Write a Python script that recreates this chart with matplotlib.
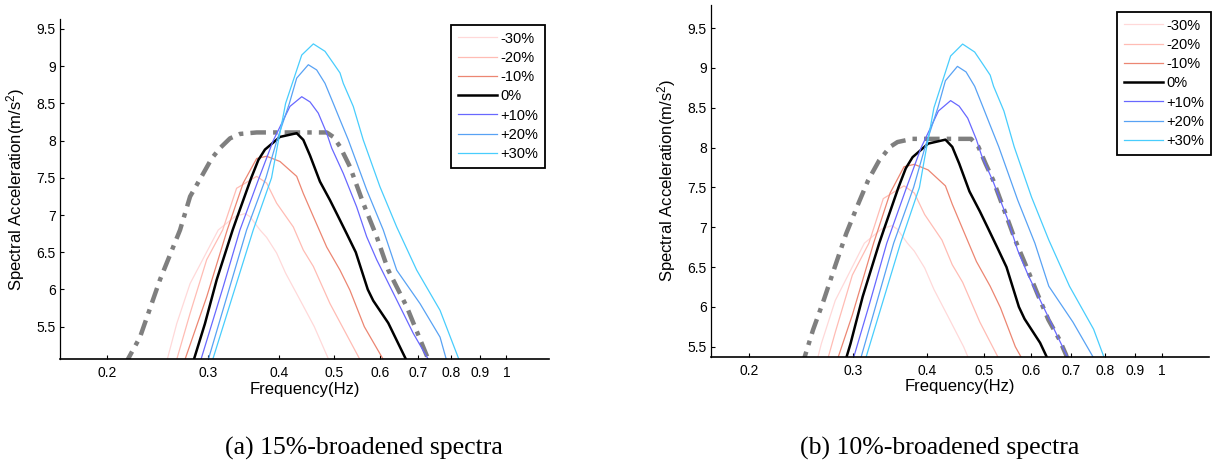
import matplotlib
matplotlib.use("Agg")
import matplotlib.pyplot as plt

plt.rcParams['font.family'] = ['Liberation Sans', 'DejaVu Sans']
plt.rcParams['mathtext.fontset'] = 'custom'
plt.rcParams['mathtext.rm'] = 'Liberation Sans'
plt.rcParams['mathtext.it'] = 'Liberation Sans:italic'

# shifted spectra, shared by both panels
labels = ['-30%', '-20%', '-10%', '0%', '+10%', '+20%', '+30%']

f_m30 = [0.252, 0.2549, 0.2648, 0.2795, 0.3131, 0.335, 0.3486, 0.3557, 0.3704, 0.3805,
         0.3961, 0.4107, 0.4353, 0.4611, 0.4885, 0.494]
a_m30 = [4.98, 5.06, 5.54, 6.08, 6.80, 6.98, 7.02, 6.98, 6.80, 6.70,
         6.49, 6.22, 5.86, 5.50, 5.06, 4.98]

f_m20 = [0.262, 0.2648, 0.2795, 0.2988, 0.3187, 0.3371, 0.3655, 0.3805, 0.3961, 0.4237,
         0.4411, 0.4593, 0.4912, 0.5541, 0.56]
a_m20 = [4.98, 5.06, 5.68, 6.40, 6.80, 7.36, 7.52, 7.43, 7.16, 6.84,
         6.53, 6.31, 5.81, 5.06, 4.98]

f_m10 = [0.271, 0.2738, 0.2988, 0.3246, 0.3462, 0.3655, 0.3805, 0.4015, 0.4295, 0.4411,
         0.4593, 0.4847, 0.5114, 0.5323, 0.5641, 0.6088, 0.614]
a_m10 = [4.98, 5.06, 5.90, 6.80, 7.43, 7.76, 7.79, 7.72, 7.52, 7.29,
         6.98, 6.57, 6.26, 5.99, 5.50, 5.06, 4.98]

f_0 = [0.282, 0.2838, 0.2967, 0.3111, 0.3318, 0.3389, 0.3576, 0.368, 0.3779, 0.4015,
       0.4295, 0.4411, 0.4532, 0.4717, 0.4912, 0.5062, 0.5254, 0.545, 0.572, 0.5847,
       0.6212, 0.6673, 0.672]
a_0 = [4.98, 5.06, 5.54, 6.13, 6.80, 7.00, 7.50, 7.74, 7.88, 8.05,
       8.10, 8.01, 7.80, 7.45, 7.20, 7.00, 6.75, 6.50, 6.00, 5.85,
       5.55, 5.06, 4.98]

f_p10 = [0.2895, 0.2920, 0.3195, 0.3417, 0.3691, 0.3907, 0.418, 0.4383, 0.4532, 0.4685,
         0.4847, 0.4946, 0.5182, 0.5469, 0.5694, 0.5929, 0.6427, 0.6872, 0.7301, 0.737]
a_p10 = [4.98, 5.06, 6.04, 6.80, 7.50, 8.00, 8.46, 8.59, 8.52, 8.37,
         8.10, 7.90, 7.56, 7.11, 6.71, 6.40, 5.86, 5.41, 5.06, 4.98]

f_p20 = [0.298, 0.3008, 0.351, 0.3794, 0.3965, 0.417, 0.4295, 0.4501, 0.4655, 0.4814,
         0.4978, 0.5114, 0.5288, 0.5694, 0.6088, 0.6427, 0.7061, 0.7654, 0.785, 0.792]
a_p20 = [4.98, 5.06, 6.80, 7.50, 8.00, 8.50, 8.84, 9.02, 8.95, 8.77,
         8.50, 8.28, 8.01, 7.34, 6.80, 6.26, 5.81, 5.36, 5.06, 4.98]

f_p30 = [0.304, 0.3062, 0.3605, 0.3881, 0.3961, 0.4107, 0.4383, 0.4593, 0.4814, 0.4978,
         0.5114, 0.5182, 0.5395, 0.5616, 0.6008, 0.6427, 0.6967, 0.7654, 0.826, 0.834]
a_p30 = [4.98, 5.06, 6.80, 7.50, 7.87, 8.50, 9.15, 9.30, 9.20, 9.04,
         8.91, 8.77, 8.46, 8.01, 7.38, 6.84, 6.26, 5.72, 5.06, 4.98]

# broadened design spectra
f_env15 = [0.215, 0.2174, 0.2284, 0.2475, 0.2684, 0.2795, 0.2928, 0.3049, 0.3153, 0.3282,
           0.3417, 0.3655, 0.4847, 0.4978, 0.5114, 0.5323, 0.5616, 0.5929, 0.6212, 0.6691,
           0.7301, 0.737]
a_env15 = [4.98, 5.06, 5.36, 6.13, 6.80, 7.25, 7.52, 7.76, 7.90, 8.03,
           8.09, 8.11, 8.11, 8.05, 7.92, 7.65, 7.16, 6.71, 6.26, 5.77,
           5.06, 4.98]

f_env10 = [0.2455, 0.2483, 0.2563, 0.2674, 0.2793, 0.2917, 0.3044, 0.3178, 0.3318, 0.3462,
           0.3563, 0.3774, 0.4747, 0.4885, 0.5022, 0.5175, 0.5325, 0.548, 0.5637, 0.5886,
           0.6145, 0.6416, 0.6699, 0.6873, 0.694]
a_env10 = [5.25, 5.38, 5.71, 6.09, 6.51, 6.92, 7.26, 7.59, 7.84, 8.01,
           8.07, 8.11, 8.11, 8.01, 7.80, 7.59, 7.34, 7.09, 6.84, 6.51,
           6.17, 5.84, 5.59, 5.40, 5.30]

freqs = [f_m30, f_m20, f_m10, f_0, f_p10, f_p20, f_p30]
amps = [a_m30, a_m20, a_m10, a_0, a_p10, a_p20, a_p30]
colors = ['#ffd9d9', '#ffbcb4', '#ec8672', 'black', '#6868ff', '#58a2f4', '#48cdfd']
widths = [0.9, 0.9, 0.9, 1.8, 0.9, 0.9, 0.9]

xticks = [0.2, 0.3, 0.4, 0.5, 0.6, 0.7, 0.8, 0.9, 1]
xticklabels = ['0.2', '0.3', '0.4', '0.5', '0.6', '0.7', '0.8', '0.9', '1']
yticks = [5.5, 6, 6.5, 7, 7.5, 8, 8.5, 9, 9.5]

fig = plt.figure(figsize=(12.16, 4.61), dpi=100)
ax1 = fig.add_axes([0.0493, 0.2206, 0.4021, 0.7375])
ax2 = fig.add_axes([0.5847, 0.2262, 0.4095, 0.7629])

panels = [
    (ax1, f_env15, a_env15, (0.1654, 1.187), (5.062, 9.63), (545, 25)),
    (ax2, f_env10, a_env10, (0.1722, 1.2), (5.375, 9.79), (1211, 12)),
]

for ax, fe, ae, xl, yl, leg_xy in panels:
    ax.plot(fe, ae, color='#7f7f7f', lw=3.2, linestyle=(0, (3.5, 1.6, 1.0, 1.6)))
    for f, a, c, w, lab in zip(freqs, amps, colors, widths, labels):
        ax.plot(f, a, color=c, lw=w, label=lab)
    ax.set_xscale('log')
    ax.set_xlim(*xl)
    ax.set_ylim(*yl)
    ax.set_xticks(xticks)
    ax.set_xticklabels(xticklabels)
    ax.xaxis.set_minor_locator(matplotlib.ticker.NullLocator())
    ax.set_yticks(yticks)
    ax.set_yticklabels(['%g' % v for v in yticks])
    ax.tick_params(direction='in', length=3, width=0.8, labelsize=10, pad=5)
    ax.tick_params(axis='y', pad=3)
    for s in ['top', 'right']:
        ax.spines[s].set_visible(False)
    ax.spines['left'].set_linewidth(0.9)
    ax.spines['bottom'].set_linewidth(1.2)
    ax.set_xlabel('Frequency(Hz)', fontsize=12, labelpad=1)
    ax.set_ylabel('Spectral Acceleration(m/s$^2$)', fontsize=12, labelpad=7)
    leg = ax.legend(loc='upper right', bbox_to_anchor=(leg_xy[0] / 1216, 1 - leg_xy[1] / 461),
                    bbox_transform=fig.transFigure, borderaxespad=0, fancybox=False,
                    framealpha=1, edgecolor='black', fontsize=10.5, handlelength=2.7,
                    handletextpad=0.25, labelspacing=0.36, borderpad=0.45)
    leg.get_frame().set_linewidth(1.3)

fig.text(364 / 1216, 1 - 448 / 461, '(a) 15%-broadened spectra', ha='center', va='center',
         fontsize=18.5, family='Liberation Serif')
fig.text(940 / 1216, 1 - 448 / 461, '(b) 10%-broadened spectra', ha='center', va='center',
         fontsize=18.5, family='Liberation Serif')

fig.savefig('out.png', dpi=100)
